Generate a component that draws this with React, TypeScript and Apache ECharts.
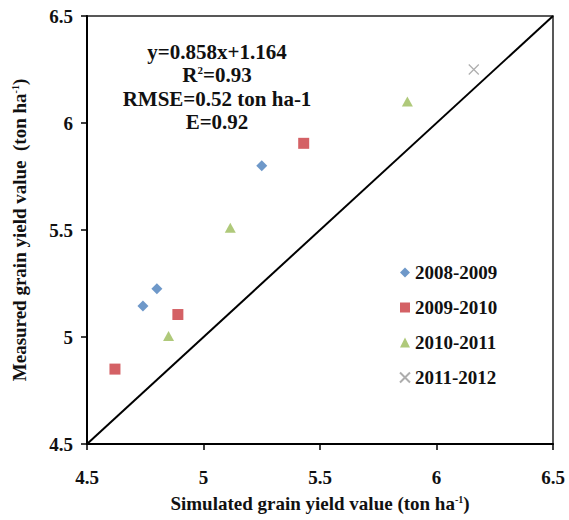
import React, { useEffect, useRef } from "react";
import * as echarts from "echarts";

const seriesNames = ["2008-2009", "2009-2010", "2010-2011", "2011-2012"];
const data2008: number[][] = [[4.74, 5.145], [4.80, 5.225], [5.25, 5.80]];
const data2009: number[][] = [[4.62, 4.85], [4.89, 5.105], [5.43, 5.905]];
const data2010: number[][] = [[4.85, 5.005], [5.115, 5.51], [5.875, 6.10]];
const data2011: number[][] = [[6.16, 6.25]];
const oneToOne: number[][] = [[4.5, 4.5], [6.5, 6.5]];
const annotationLines = ["y=0.858x+1.164", "R{sup|2}=0.93", "RMSE=0.52 ton ha-1", "E=0.92"];

const FONT = "'Liberation Serif', 'Times New Roman', serif";

export default function App() {
  const ref = useRef<HTMLDivElement>(null);
  useEffect(() => {
    if (!ref.current) return;
    const chart = echarts.init(ref.current, undefined, { renderer: "svg" });
    const axisCommon = {
      type: "value" as const,
      min: 4.5,
      max: 6.5,
      interval: 0.5,
      splitLine: { show: false },
      axisLine: { show: true, lineStyle: { color: "#000", width: 2 } },
      axisTick: { show: true, inside: false, length: 6, lineStyle: { color: "#000", width: 1.5 } },
      nameLocation: "middle" as const,
      nameTextStyle: {
        fontSize: 19,
        fontWeight: "bold" as const,
        fontFamily: FONT,
        color: "#111",
        rich: {
          sup: { fontSize: 10, fontWeight: "bold" as const, fontFamily: FONT, color: "#111", verticalAlign: "top" as const, padding: [0, 0, 8, 0] },
        },
      },
    };
    const labelStyle = { fontSize: 19, fontWeight: "bold" as const, fontFamily: FONT, color: "#111" };
    chart.setOption({
      animation: false,
      backgroundColor: "#fff",
      grid: { left: 87, right: 16, top: 16, bottom: 76, show: true, borderColor: "#222", borderWidth: 1.5, backgroundColor: "transparent" },
      xAxis: {
        ...axisCommon,
        name: "Simulated grain yield value (ton ha{sup|-1})",
        nameGap: 50,
        axisLabel: { ...labelStyle, margin: 24 },
      },
      yAxis: {
        ...axisCommon,
        name: "Measured grain yield value  (ton ha{sup|-1})",
        nameGap: 58,
        axisLabel: { ...labelStyle, margin: 14 },
      },
      legend: {
        data: seriesNames,
        orient: "vertical",
        left: 394,
        top: 257,
        itemWidth: 10,
        itemHeight: 10,
        itemGap: 14,
        textStyle: { fontSize: 19, fontWeight: "bold", fontFamily: FONT, color: "#111", lineHeight: 21 },
      },
      graphic: annotationLines.map((t, i) => ({
        type: "text",
        x: 217,
        y: [52, 75, 99, 122][i],
        style: {
          text: t,
          textAlign: "center",
          textVerticalAlign: "middle",
          font: `bold 21px ${FONT}`,
          fill: "#111",
          rich: { sup: { fontSize: 11, fontWeight: "bold", fontFamily: FONT, fill: "#111", verticalAlign: "top", padding: [0, 0, 8, 0] } },
        },
      })),
      series: [
        {
          name: "1:1",
          type: "line",
          data: oneToOne,
          symbol: "none",
          silent: true,
          lineStyle: { color: "#000", width: 2 },
          z: 1,
        },
        {
          name: seriesNames[0],
          type: "scatter",
          data: data2008,
          symbol: "diamond",
          symbolSize: [11, 11],
          itemStyle: { color: "#4a7ebb" },
          z: 3,
        },
        {
          name: seriesNames[1],
          type: "scatter",
          data: data2009,
          symbol: "rect",
          symbolSize: 11,
          itemStyle: { color: "#c9393e" },
          z: 3,
        },
        {
          name: seriesNames[2],
          type: "scatter",
          data: data2010,
          symbol: "triangle",
          symbolSize: [11, 10],
          itemStyle: { color: "#9bbb59" },
          z: 3,
        },
        {
          name: seriesNames[3],
          type: "scatter",
          data: data2011,
          symbol: "path://M0,0L10,10M10,0L0,10",
          symbolSize: 10,
          itemStyle: { color: "#999", borderColor: "#999", borderWidth: 1.2 },
          z: 3,
        },
      ],
    });
    return () => chart.dispose();
  }, []);
  return <div ref={ref} style={{ position: "fixed", left: 0, top: 0, width: 569, height: 520 }} />;
}
